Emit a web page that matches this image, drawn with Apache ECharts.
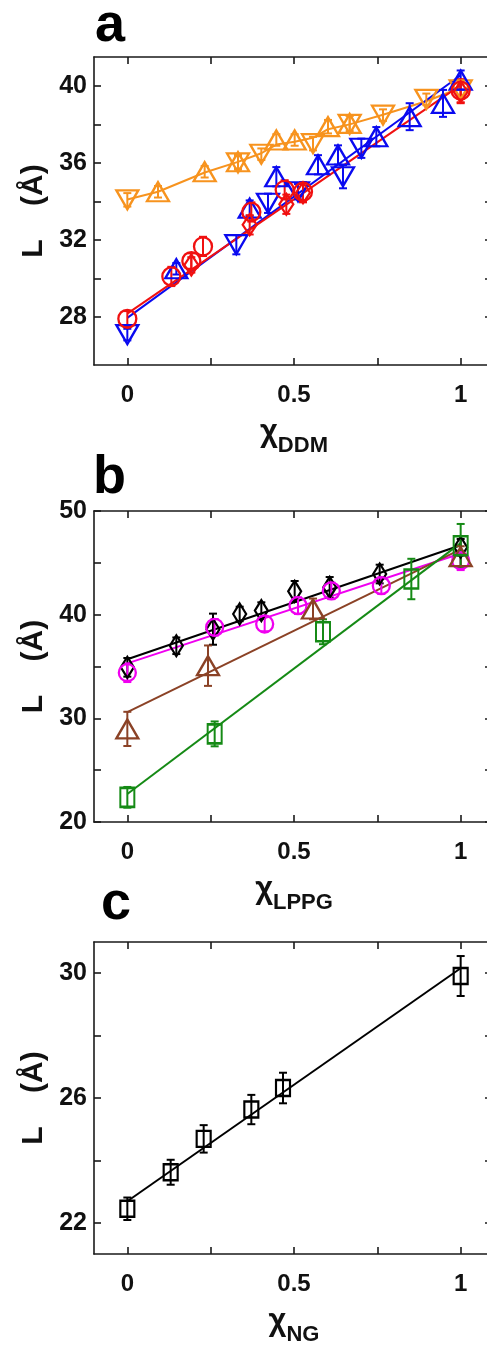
<!DOCTYPE html>
<html><head><meta charset="utf-8">
<script src="https://cdn.jsdelivr.net/npm/echarts@6/dist/echarts.min.js"></script>
<style>html,body{margin:0;padding:0;background:#fff}#c{width:487px;height:1349px}</style>
</head><body><div id="c"></div>
<script>
// ---------- tick values ----------
const xTickValues = [0, 0.25, 0.5, 0.75, 1];
const xLabelValues = [0, 0.5, 1];
const aYTicks = [28, 30, 32, 34, 36, 38, 40];
const aYLabels = [28, 32, 36, 40];
const bYTicks = [20, 25, 30, 35, 40, 45, 50];
const bYLabels = [20, 30, 40, 50];
const cYTicks = [22, 24, 26, 28, 30];
const cYLabels = [22, 26, 30];

// ---------- panel a (x = chi_DDM) ----------
const orangeUpX = [0.092, 0.232, 0.332, 0.447, 0.502, 0.602, 0.667];
const orangeUpY = [34.5, 35.54, 36.06, 37.19, 37.19, 37.88, 38.05];
const orangeUpErr = [0.3, 0.3, 0.35, 0.3, 0.3, 0.35, 0.4];
const orangeDownX = [0, 0.332, 0.402, 0.557, 0.667, 0.767, 0.897, 1];
const orangeDownY = [34.08, 36.0, 36.45, 37.0, 38.0, 38.48, 39.3, 39.8];
const orangeDownErr = [0.35, 0.35, 0.3, 0.35, 0.45, 0.3, 0.3, 0.3];
const orangeLineX = [0, 0.092, 0.232, 0.332, 0.402, 0.447, 0.502, 0.557, 0.602, 0.667, 0.767, 0.897, 1];
const orangeLineY = [34.1, 34.5, 35.5, 36.05, 36.5, 36.95, 37.1, 37.3, 37.75, 38.0, 38.5, 39.2, 39.9];

const blueUpX = [0.147, 0.367, 0.447, 0.572, 0.632, 0.747, 0.847, 0.947, 1];
const blueUpY = [30.5, 33.65, 35.28, 35.9, 36.41, 37.36, 38.4, 39.09, 40.3];
const blueUpErr = [0.3, 0.4, 0.5, 0.5, 0.5, 0.5, 0.7, 0.7, 0.5];
const blueDownX = [0, 0.327, 0.422, 0.512, 0.647, 0.702];
const blueDownY = [27.08, 31.75, 33.9, 34.5, 35.28, 36.76];
const blueDownErr = [0.3, 0.5, 0.5, 0.4, 0.6, 0.5];
const blueFitX = [0, 1];
const blueFitY = [27.95, 40.55];

const redCircleX = [0, 0.132, 0.192, 0.227, 0.372, 0.472, 0.527, 1];
const redCircleY = [27.9, 30.1, 30.9, 31.66, 33.45, 34.6, 34.5, 39.75];
const redCircleErr = [0.4, 0.5, 0.4, 0.5, 0.5, 0.5, 0.5, 0.6];
const redDiamondX = [0.192, 0.367, 0.477, 0.527, 1];
const redDiamondY = [30.7, 32.78, 33.85, 34.45, 39.7];
const redDiamondErr = [0.4, 0.5, 0.5, 0.5, 0.6];
const redFitX = [0, 1];
const redFitY = [28.17, 40.04];

// ---------- panel b (x = chi_LPPG) ----------
const blackX = [0, 0.147, 0.257, 0.337, 0.402, 0.502, 0.607, 0.757, 1];
const blackY = [34.92, 37.0, 38.6, 40.07, 40.39, 42.25, 42.63, 43.92, 46.5];
const blackErr = [0.9, 0.8, 1.5, 0.7, 0.8, 1.0, 1.0, 0.9, 0.8];
const blackFitX = [0, 1];
const blackFitY = [35.7, 46.7];

const magentaX = [0, 0.262, 0.412, 0.512, 0.612, 0.762, 1];
const magentaY = [34.4, 38.78, 39.1, 40.87, 42.3, 42.8, 45.2];
const magentaErr = [0.9, 0.8, 0.7, 0.8, 0.8, 0.8, 0.9];
const magentaFitX = [0, 1];
const magentaFitY = [35.3, 45.9];

const brownX = [0, 0.242, 0.557, 1];
const brownY = [28.98, 35.08, 40.55, 45.6];
const brownErr = [1.65, 1.95, 1.0, 1.0];
const brownFitX = [0, 1];
const brownFitY = [30.6, 46.3];

const greenX = [0, 0.262, 0.587, 0.852, 1];
const greenY = [22.38, 28.5, 38.35, 43.44, 46.65];
const greenErr = [1.0, 1.2, 1.2, 1.95, 2.1];
const greenFitX = [0, 1];
const greenFitY = [22.7, 46.9];

// ---------- panel c (x = chi_NG) ----------
const ngX = [0, 0.13, 0.229, 0.372, 0.467, 1];
const ngY = [22.45, 23.62, 24.69, 25.63, 26.32, 29.91];
const ngErr = [0.36, 0.4, 0.44, 0.47, 0.49, 0.64];
const ngFitX = [0, 1];
const ngFitY = [22.69, 30.16];

// ---------- helpers ----------
const FONT = '"Liberation Sans", Arial, Helvetica, sans-serif';
const pts = (xs, ys) => xs.map((x, i) => [x, ys[i]]);
const errPts = (xs, ys, es) => xs.map((x, i) => [x, ys[i] - es[i], ys[i] + es[i]]);

function lineSeries(g, xs, ys, color) {
  return { type: 'line', xAxisIndex: 2 * g, yAxisIndex: 2 * g, data: pts(xs, ys),
    symbol: 'none', lineStyle: { color: color, width: 2 }, z: 1, silent: true, animation: false };
}
function markerSeries(g, xs, ys, color, symbol, size, rotate) {
  return { type: 'scatter', xAxisIndex: 2 * g, yAxisIndex: 2 * g, data: pts(xs, ys),
    symbol: symbol, symbolSize: size, symbolRotate: rotate || 0,
    itemStyle: { color: 'rgba(0,0,0,0)', borderColor: color, borderWidth: 2.3, opacity: 1 },
    z: 4, silent: true, animation: false };
}
function errorSeries(g, xs, ys, es, color) {
  return { type: 'custom', xAxisIndex: 2 * g, yAxisIndex: 2 * g, data: errPts(xs, ys, es),
    encode: { x: 0, y: [1, 2] }, z: 3, silent: true, animation: false,
    renderItem: function (params, api) {
      const x = api.value(0);
      const top = api.coord([x, api.value(2)]);
      const bot = api.coord([x, api.value(1)]);
      const w = 4;
      const st = { stroke: color, lineWidth: 2 };
      return { type: 'group', children: [
        { type: 'line', shape: { x1: top[0], y1: top[1], x2: bot[0], y2: bot[1] }, style: st },
        { type: 'line', shape: { x1: top[0] - w, y1: top[1], x2: top[0] + w, y2: top[1] }, style: st },
        { type: 'line', shape: { x1: bot[0] - w, y1: bot[1], x2: bot[0] + w, y2: bot[1] }, style: st }
      ] };
    } };
}

const axisLineStyle = { show: true, onZero: false, lineStyle: { color: '#1a1a1a', width: 1.6 } };
function makeAxes(g, yMin, yMax, yTicks, yLabels, sub) {
  const xs = [
    { type: 'value', gridIndex: g, position: 'bottom', min: -0.1, max: 1.1,
      axisLine: axisLineStyle, splitLine: { show: false },
      axisTick: { inside: true, length: 7, customValues: xTickValues, lineStyle: { color: '#1a1a1a', width: 1.6 } },
      axisLabel: { customValues: xLabelValues, margin: 18, color: '#111', fontSize: 24, fontWeight: 'bold', fontFamily: FONT,
        formatter: v => String(v) },
      name: '{c|χ}{s|' + sub + '}', nameLocation: 'middle', nameGap: 52,
      nameTextStyle: { color: '#111', fontFamily: FONT,
        rich: { c: { fontSize: 31, fontWeight: 'bold', lineHeight: 28, verticalAlign: 'top', fontFamily: FONT, color: '#111' },
                s: { fontSize: 22, fontWeight: 'bold', lineHeight: 58, verticalAlign: 'middle', fontFamily: FONT, color: '#111' } } } },
    { type: 'value', gridIndex: g, position: 'top', min: -0.1, max: 1.1,
      axisLine: axisLineStyle, splitLine: { show: false }, axisLabel: { show: false },
      axisTick: { inside: true, length: 7, customValues: xTickValues, lineStyle: { color: '#1a1a1a', width: 1.6 } } }
  ];
  const ys = [
    { type: 'value', gridIndex: g, position: 'left', min: yMin, max: yMax,
      axisLine: axisLineStyle, splitLine: { show: false },
      axisTick: { inside: true, length: 7, customValues: yTicks, lineStyle: { color: '#1a1a1a', width: 1.6 } },
      axisLabel: { customValues: yLabels, margin: 7, color: '#111', fontSize: 25, fontWeight: 'bold', fontFamily: FONT },
      name: 'L    (Å)', nameLocation: 'middle', nameGap: 41,
      nameTextStyle: { color: '#111', fontSize: 30, fontWeight: 'bold', fontFamily: FONT } },
    { type: 'value', gridIndex: g, position: 'right', min: yMin, max: yMax,
      axisLine: axisLineStyle, splitLine: { show: false }, axisLabel: { show: false },
      axisTick: { inside: true, length: 9, customValues: yTicks, lineStyle: { color: '#1a1a1a', width: 1.6 } } }
  ];
  return { xs, ys };
}

const A = makeAxes(0, 25.5, 41.5, aYTicks, aYLabels, 'DDM');
const B = makeAxes(1, 20, 50, bYTicks, bYLabels, 'LPPG');
const C = makeAxes(2, 21, 31, cYTicks, cYLabels, 'NG');

const ORANGE = '#F7931E', BLUE = '#0A0AF0', RED = '#F01010',
      BLACK = '#000000', MAGENTA = '#F000F0', BROWN = '#8B4226', GREEN = '#158A15';

const triSize = [22, 19], circSize = 18, diaSize = [14, 21], sqSize = [14, 19];

const option = {
  backgroundColor: '#ffffff',
  animation: false,
  title: [
    { text: 'a', left: 95, top: -1, padding: 0, textStyle: { fontSize: 54, fontWeight: 'bold', fontFamily: FONT, color: '#000' } },
    { text: 'b', left: 93, top: 451, padding: 0, textStyle: { fontSize: 54, fontWeight: 'bold', fontFamily: FONT, color: '#000' } },
    { text: 'c', left: 101, top: 877, padding: 0, textStyle: { fontSize: 54, fontWeight: 'bold', fontFamily: FONT, color: '#000' } }
  ],
  grid: [
    { left: 94, right: -7, top: 57, height: 308, outerBoundsMode: 'none' },
    { left: 94, right: -7, top: 511, height: 311, outerBoundsMode: 'none' },
    { left: 94, right: -7, top: 942, height: 312, outerBoundsMode: 'none' }
  ],
  xAxis: [...A.xs, ...B.xs, ...C.xs],
  yAxis: [...A.ys, ...B.ys, ...C.ys],
  series: [
    // panel a
    lineSeries(0, orangeLineX, orangeLineY, ORANGE),
    lineSeries(0, blueFitX, blueFitY, BLUE),
    lineSeries(0, redFitX, redFitY, RED),
    errorSeries(0, orangeUpX, orangeUpY, orangeUpErr, ORANGE),
    errorSeries(0, orangeDownX, orangeDownY, orangeDownErr, ORANGE),
    errorSeries(0, blueUpX, blueUpY, blueUpErr, BLUE),
    errorSeries(0, blueDownX, blueDownY, blueDownErr, BLUE),
    errorSeries(0, redCircleX, redCircleY, redCircleErr, RED),
    errorSeries(0, redDiamondX, redDiamondY, redDiamondErr, RED),
    markerSeries(0, orangeUpX, orangeUpY, ORANGE, 'triangle', triSize, 0),
    markerSeries(0, orangeDownX, orangeDownY, ORANGE, 'triangle', triSize, 180),
    markerSeries(0, blueUpX, blueUpY, BLUE, 'triangle', triSize, 0),
    markerSeries(0, blueDownX, blueDownY, BLUE, 'triangle', triSize, 180),
    markerSeries(0, redCircleX, redCircleY, RED, 'circle', circSize, 0),
    markerSeries(0, redDiamondX, redDiamondY, RED, 'diamond', diaSize, 0),
    // panel b
    lineSeries(1, blackFitX, blackFitY, BLACK),
    lineSeries(1, magentaFitX, magentaFitY, MAGENTA),
    lineSeries(1, brownFitX, brownFitY, BROWN),
    lineSeries(1, greenFitX, greenFitY, GREEN),
    errorSeries(1, blackX, blackY, blackErr, BLACK),
    errorSeries(1, magentaX, magentaY, magentaErr, MAGENTA),
    errorSeries(1, brownX, brownY, brownErr, BROWN),
    errorSeries(1, greenX, greenY, greenErr, GREEN),
    markerSeries(1, blackX, blackY, BLACK, 'diamond', [13, 21], 0),
    markerSeries(1, magentaX, magentaY, MAGENTA, 'circle', 17, 0),
    markerSeries(1, brownX, brownY, BROWN, 'triangle', triSize, 0),
    markerSeries(1, greenX, greenY, GREEN, 'rect', sqSize, 0),
    // panel c
    lineSeries(2, ngFitX, ngFitY, BLACK),
    errorSeries(2, ngX, ngY, ngErr, BLACK),
    markerSeries(2, ngX, ngY, BLACK, 'rect', [14, 16], 0)
  ]
};

const chart = echarts.init(document.getElementById('c'), null, { renderer: 'canvas' });
chart.setOption(option);
</script></body></html>
